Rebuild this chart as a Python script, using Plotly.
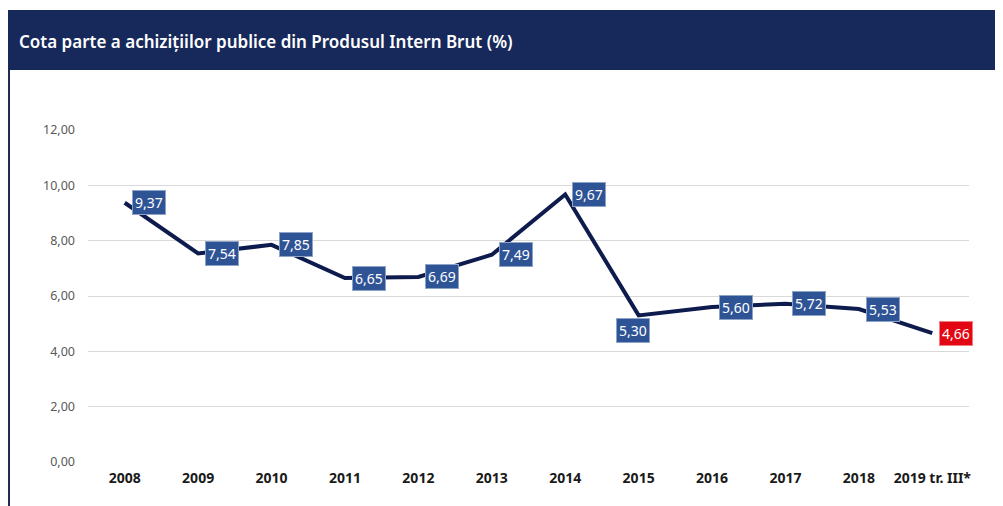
import plotly.graph_objects as go

categories = ["2008", "2009", "2010", "2011", "2012", "2013", "2014", "2015", "2016", "2017", "2018", "2019 tr. III*"]
values = [9.37, 7.54, 7.85, 6.65, 6.69, 7.49, 9.67, 5.30, 5.60, 5.72, 5.53, 4.66]
label_colors = ["#2F5496"] * 11 + ["#E30613"]
label_below = [False] * 7 + [True] + [False] * 4
title_text = "Cota parte a achizițiilor publice din Produsul Intern Brut (%)"

W, H = 995, 498          # page body has an 8px margin
L, R, T, B = 80, 34, 122, 44
PW, PH = W - L - R, H - T - B

def px(x):
    return (x - L) / PW

def py(y):
    return (H - B - y) / PH

fig = go.Figure()
fig.add_trace(go.Scatter(
    x=list(range(len(categories))), y=values, mode="lines",
    line=dict(color="#0E1B4D", width=4),
    hoverinfo="skip", showlegend=False,
))

for i, (v, col, below) in enumerate(zip(values, label_colors, label_below)):
    pos = dict(xanchor="center", yanchor="top", xshift=-6, yshift=-3) if below else \
        dict(xanchor="left", yanchor="middle", xshift=7)
    fig.add_annotation(
        x=i, y=v, text=f"{v:.2f}".replace(".", ","),
        showarrow=False, **pos,
        bgcolor=col, bordercolor="#8EA3C8" if col != "#E30613" else "#F08080",
        borderwidth=1, borderpad=2,
        font=dict(family="Noto Sans", size=14, color="white"),
    )

# header band
fig.add_shape(type="rect", xref="paper", yref="paper",
              x0=px(0), x1=px(W), y0=py(62), y1=py(2),
              fillcolor="#17295A", line=dict(width=0), layer="below")
# left vertical border line
fig.add_shape(type="line", xref="paper", yref="paper",
              x0=px(1), x1=px(1), y0=py(H), y1=py(62),
              line=dict(color="#1E2E52", width=2))
fig.add_annotation(xref="paper", yref="paper", x=px(9), y=py(33),
                   text=title_text, showarrow=False, xanchor="left", yanchor="middle",
                   font=dict(family="Noto Sans", size=17, color="white", weight=600))

fig.update_layout(
    width=W, height=H,
    margin=dict(l=L, r=R, t=T, b=B),
    paper_bgcolor="white", plot_bgcolor="white",
    separators=",.",
    xaxis=dict(tickmode="array", tickvals=list(range(len(categories))), ticktext=categories,
               showgrid=False, zeroline=False, showline=False, ticks="",
               tickfont=dict(family="Noto Sans", size=14, color="#1a1a1a", weight="bold"),
               range=[-0.5, 11.5]),
    yaxis=dict(range=[0, 12], dtick=2, tickformat=".2f",
               gridcolor="#D9D9D9", gridwidth=1, zeroline=False,
               showline=False, ticks="",
               tickfont=dict(family="Noto Sans", size=12.5, color="#595959")),
)
fig.update_yaxes(ticklabelstandoff=12)
fig.update_xaxes(ticklabelstandoff=6)
fig.write_html("out.html")
